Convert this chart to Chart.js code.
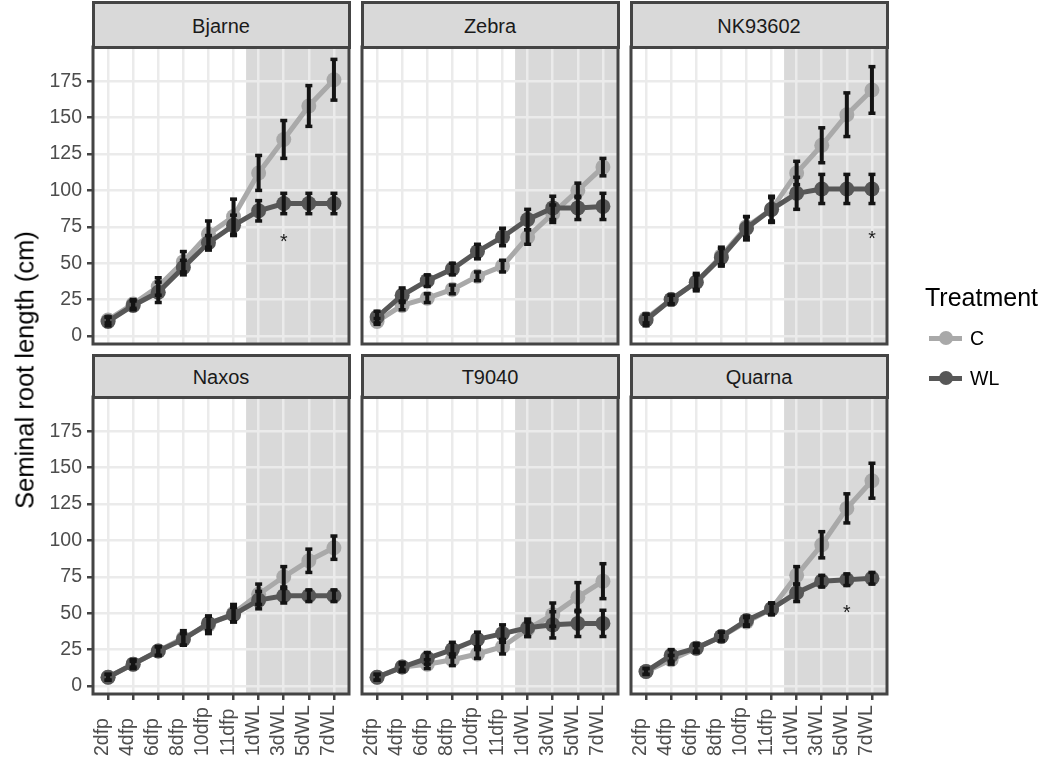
<!DOCTYPE html>
<html>
<head>
<meta charset="utf-8">
<script src="https://cdn.jsdelivr.net/npm/chart.js@4.4.1/dist/chart.umd.min.js"></script>
<style>
  html, body { margin: 0; padding: 0; background: #ffffff; }
  #fig { position: relative; width: 1053px; height: 761px; overflow: hidden;
         font-family: "Liberation Sans", Arial, Helvetica, sans-serif; }
  #fig canvas { position: absolute; left: 0; top: 0; }
  .strip { position: absolute; box-sizing: border-box; border: 3px solid #444444;
           background: #d9d9d9; color: #1a1a1a; font-size: 20px; line-height: 1;
           display: flex; align-items: center; justify-content: center; padding-top: 2px; }
  .ytitle { position: absolute; left: 25px; top: 370px; white-space: nowrap;
            font-size: 25.5px; color: #000; transform: translate(-50%, -50%) rotate(-90deg); }
  .legend-title { position: absolute; left: 925px; top: 285px; font-size: 25px; line-height: 25px; color: #000; }
  .legend-label { position: absolute; left: 970px; font-size: 19.5px; line-height: 19.5px; color: #000; }
  .key-line { position: absolute; left: 929px; width: 33px; height: 5px; }
  .key-dot { position: absolute; width: 14px; height: 14px; border-radius: 50%; }
</style>
</head>
<body>
<div id="fig"></div>
<script>
// Sampling times (x axis) and y axis ticks
const categories = ['2dfp', '4dfp', '6dfp', '8dfp', '10dfp', '11dfp', '1dWL', '3dWL', '5dWL', '7dWL'];
const yTicks = [0, 25, 50, 75, 100, 125, 150, 175];
const treatments = ['C', 'WL'];
const shadeFrom = '1dWL';   // waterlogging period starts here

// Seminal root length (cm): means and error half-widths per genotype
const bjarneC     = [11, 22, 34, 51, 70, 82, 112, 135, 158, 176];
const bjarneCErr  = [2, 3, 6, 7, 9, 12, 12, 13, 14, 14];
const bjarneWL    = [10, 21, 30, 47, 64, 76, 86, 91, 91, 91];
const bjarneWLErr = [3, 3, 7, 5, 5, 7, 7, 7, 7, 7];

const zebraC      = [10, 21, 26, 32, 41, 48, 68, 84, 100, 116];
const zebraCErr   = [2, 3, 3, 3, 3, 4, 5, 6, 5, 6];
const zebraWL     = [13, 28, 38, 46, 58, 68, 80, 88, 88, 89];
const zebraWLErr  = [4, 5, 4, 4, 5, 6, 7, 8, 8, 9];

const nkC         = [12, 25, 37, 55, 75, 87, 112, 131, 152, 169];
const nkCErr      = [3, 3, 5, 6, 7, 8, 8, 12, 15, 16];
const nkWL        = [11, 25, 37, 54, 74, 87, 98, 101, 101, 101];
const nkWLErr     = [4, 3, 6, 6, 8, 9, 11, 10, 10, 10];

const naxosC      = [6, 15, 24, 33, 42, 50, 63, 75, 86, 95];
const naxosCErr   = [2, 2, 3, 5, 6, 6, 7, 7, 8, 8];
const naxosWL     = [6, 15, 24, 32, 43, 49, 59, 62, 62, 62];
const naxosWLErr  = [2, 3, 3, 4, 5, 5, 6, 5, 4, 4];

const t9040C      = [6, 13, 15, 18, 22, 27, 39, 49, 61, 72];
const t9040CErr   = [2, 2, 3, 4, 3, 5, 5, 8, 10, 12];
const t9040WL     = [6, 13, 19, 25, 32, 36, 40, 42, 43, 43];
const t9040WLErr  = [2, 3, 4, 5, 5, 6, 6, 9, 9, 9];

const quarnaC     = [10, 18, 26, 34, 44, 53, 76, 97, 122, 141];
const quarnaCErr  = [2, 3, 2, 3, 3, 4, 6, 9, 10, 12];
const quarnaWL    = [10, 21, 26, 34, 45, 53, 64, 72, 73, 74];
const quarnaWLErr = [2, 4, 3, 3, 3, 4, 6, 4, 4, 4];

// Significance marks
const starGenotypes  = ['Bjarne', 'NK93602', 'Quarna'];
const starCategories = ['3dWL', '7dWL', '5dWL'];
const starValues     = [64, 66, 50];

const panels = [
  { name: 'Bjarne',  c: bjarneC, cErr: bjarneCErr, wl: bjarneWL, wlErr: bjarneWLErr },
  { name: 'Zebra',   c: zebraC,  cErr: zebraCErr,  wl: zebraWL,  wlErr: zebraWLErr },
  { name: 'NK93602', c: nkC,     cErr: nkCErr,     wl: nkWL,     wlErr: nkWLErr },
  { name: 'Naxos',   c: naxosC,  cErr: naxosCErr,  wl: naxosWL,  wlErr: naxosWLErr },
  { name: 'T9040',   c: t9040C,  cErr: t9040CErr,  wl: t9040WL,  wlErr: t9040WLErr },
  { name: 'Quarna',  c: quarnaC, cErr: quarnaCErr, wl: quarnaWL, wlErr: quarnaWLErr }
];

// ---- layout and style ----
const W = 1053, H = 761;
const FONT = '"Liberation Sans", Arial, Helvetica, sans-serif';
const COL_LEFT = [93, 362, 631];
const PANEL_W = 256;
const Y_AXIS_W = 80;
const ROWS = [ { strip: 2.5, top: 47, bottom: 344 }, { strip: 355, top: 397, bottom: 694 } ];
const COLORS = { C: '#a9a9a9', WL: '#575757' };
const ERR_COLOR = '#141414';
const BORDER = '#444444';
const GRID = '#ebebeb';
const SHADE = '#d9d9d9';

const fig = document.getElementById('fig');

function seriesPoints(vals) { return vals.map((v, k) => ({ x: k, y: v })); }
function errorPoints(vals, errs) {
  const pts = [];
  vals.forEach((v, k) => { pts.push({ x: k, y: v - errs[k] }, { x: k, y: v + errs[k] }, { x: k, y: null }); });
  return pts;
}

const panelPlugin = (panel, row, col) => ({
  id: 'panelDecor',
  beforeDraw(chart) {
    const { ctx, chartArea: a, scales: { x } } = chart;
    const xs = x.getPixelForValue(categories.indexOf(shadeFrom) - 0.5);
    ctx.save();
    ctx.fillStyle = SHADE;
    ctx.fillRect(xs, a.top, a.right - xs, a.bottom - a.top);
    ctx.restore();
  },
  afterDraw(chart) {
    const { ctx, chartArea: a, scales: { x, y } } = chart;
    ctx.save();
    // significance asterisks
    ctx.fillStyle = '#1a1a1a';
    ctx.font = '19.5px ' + FONT;
    ctx.textAlign = 'center';
    ctx.textBaseline = 'middle';
    starGenotypes.forEach((g, i) => {
      if (g !== panel.name) return;
      ctx.fillText('*', x.getPixelForValue(categories.indexOf(starCategories[i])), y.getPixelForValue(starValues[i]));
    });
    // panel frame
    ctx.strokeStyle = BORDER;
    ctx.lineWidth = 3;
    ctx.strokeRect(a.left, a.top, a.right - a.left, a.bottom - a.top);
    // rotated category labels under the bottom row
    if (row === 1) {
      ctx.fillStyle = '#4d4d4d';
      ctx.font = '19.5px ' + FONT;
      ctx.textAlign = 'left';
      ctx.textBaseline = 'alphabetic';
      categories.forEach((lab, k) => {
        ctx.save();
        ctx.translate(x.getPixelForValue(k), 756);
        ctx.rotate(-Math.PI / 2);
        ctx.fillText(lab, 0, 0);
        ctx.restore();
      });
    }
    ctx.restore();
  }
});

panels.forEach((panel, i) => {
  const col = i % 3, row = Math.floor(i / 3);
  const L = COL_LEFT[col], R = L + PANEL_W, T = ROWS[row].top, B = ROWS[row].bottom;

  const canvas = document.createElement('canvas');
  canvas.width = W; canvas.height = H;
  canvas.style.width = W + 'px'; canvas.style.height = H + 'px';
  fig.appendChild(canvas);

  new Chart(canvas, {
    type: 'line',
    data: {
      datasets: [
        { label: 'C err', data: errorPoints(panel.c, panel.cErr), borderColor: ERR_COLOR, borderWidth: 4,
          pointStyle: 'line', pointRadius: 3.5, pointBorderWidth: 3.5, pointBorderColor: ERR_COLOR,
          spanGaps: false, order: 0 },
        { label: 'WL err', data: errorPoints(panel.wl, panel.wlErr), borderColor: ERR_COLOR, borderWidth: 4,
          pointStyle: 'line', pointRadius: 3.5, pointBorderWidth: 3.5, pointBorderColor: ERR_COLOR,
          spanGaps: false, order: 0 },
        { label: treatments[1], data: seriesPoints(panel.wl), borderColor: COLORS.WL, borderWidth: 5,
          pointRadius: 7.5, pointBorderWidth: 0, pointBackgroundColor: COLORS.WL, order: 1 },
        { label: treatments[0], data: seriesPoints(panel.c), borderColor: COLORS.C, borderWidth: 5,
          pointRadius: 7.5, pointBorderWidth: 0, pointBackgroundColor: COLORS.C, order: 2 }
      ]
    },
    options: {
      responsive: false,
      animation: false,
      devicePixelRatio: 1,
      events: [],
      layout: { autoPadding: false, padding: { left: L - Y_AXIS_W, right: W - R, top: T, bottom: H - B } },
      elements: { line: { tension: 0 } },
      plugins: { legend: { display: false }, tooltip: { enabled: false } },
      scales: {
        x: {
          type: 'linear', min: -0.6, max: 9.6,
          afterBuildTicks: s => { s.ticks = categories.map((_, k) => ({ value: k })); },
          afterFit: s => { s.height = 0; },
          ticks: { display: false },
          border: { display: false },
          grid: { color: GRID, lineWidth: 2.5, drawTicks: row === 1, tickLength: 6,
                  tickColor: BORDER, tickWidth: 2.5 }
        },
        y: {
          type: 'linear', min: -5.5, max: 198.5,
          afterBuildTicks: s => { s.ticks = yTicks.map(v => ({ value: v })); },
          afterFit: s => { s.width = Y_AXIS_W; },
          ticks: { display: col === 0, color: '#4d4d4d', padding: 5, font: { family: FONT, size: 19.5 } },
          border: { display: false },
          grid: { color: GRID, lineWidth: 2.5, drawTicks: col === 0, tickLength: 6,
                  tickColor: BORDER, tickWidth: 2.5 }
        }
      }
    },
    plugins: [panelPlugin(panel, row, col)]
  });

  const strip = document.createElement('div');
  strip.className = 'strip';
  strip.textContent = panel.name;
  strip.style.left = (L - 1.5) + 'px';
  strip.style.top = (ROWS[row].strip - 1.5) + 'px';
  strip.style.width = (PANEL_W + 3) + 'px';
  strip.style.height = (T - ROWS[row].strip + 3) + 'px';
  fig.appendChild(strip);
});

// axis title
const yt = document.createElement('div');
yt.className = 'ytitle';
yt.textContent = 'Seminal root length (cm)';
fig.appendChild(yt);

// legend
const lt = document.createElement('div');
lt.className = 'legend-title';
lt.textContent = 'Treatment';
fig.appendChild(lt);
treatments.forEach((t, k) => {
  const cy = 338 + k * 40;
  const line = document.createElement('div');
  line.className = 'key-line';
  line.style.top = (cy - 2.5) + 'px';
  line.style.background = COLORS[t];
  fig.appendChild(line);
  const dot = document.createElement('div');
  dot.className = 'key-dot';
  dot.style.left = (945.5 - 7) + 'px';
  dot.style.top = (cy - 7) + 'px';
  dot.style.background = COLORS[t];
  fig.appendChild(dot);
  const lab = document.createElement('div');
  lab.className = 'legend-label';
  lab.style.top = (cy - 9.5) + 'px';
  lab.textContent = t;
  fig.appendChild(lab);
});
</script>
</body>
</html>
